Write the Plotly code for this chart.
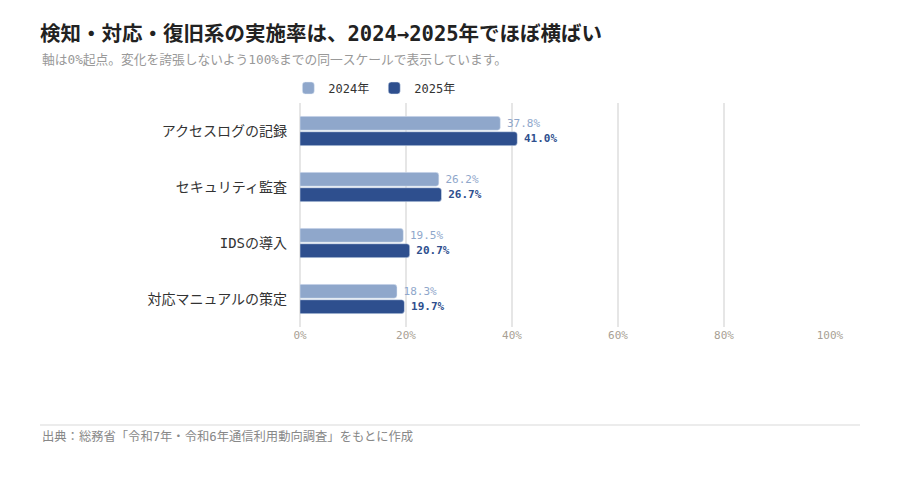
import plotly.graph_objects as go

categories = ["アクセスログの記録", "セキュリティ監査", "IDSの導入", "対応マニュアルの策定"]
rate_2024 = [37.8, 26.2, 19.5, 18.3]
rate_2025 = [41.0, 26.7, 20.7, 19.7]
tick_vals = [0, 20, 40, 60, 80, 100]
tick_text = ["0%", "20%", "40%", "60%", "80%", "100%"]

FONT = "DejaVu Sans Mono, Noto Sans CJK JP, sans-serif"
# page body has an 8px offset, so pixel targets are shifted by it
OFF = 8
W, H = 900, 480
ML, MR, MT, MB = 300 - OFF, 70 + OFF, 103 - OFF, 153 + OFF
pw, ph = W - ML - MR, H - MT - MB

def px_x(x):
    return (x - OFF - ML) / pw

def px_y(y):
    return (H - MB - (y - OFF)) / ph

# small leading spacer so value labels sit a bit off the bar end
PAD = "<span style='font-size:6px'> </span>"

fig = go.Figure()
fig.add_trace(go.Bar(
    y=categories, x=rate_2024, name="2024年", orientation="h",
    marker=dict(color="#8fa7cb"),
    text=[PAD + f"{v:.1f}%" for v in rate_2024], textposition="outside",
    textfont=dict(color="#8fa7cb", size=11, family=FONT),
    cliponaxis=False,
))
fig.add_trace(go.Bar(
    y=categories, x=rate_2025, name="2025年", orientation="h",
    marker=dict(color="#2e4f8e"),
    text=[PAD + f"{v:.1f}%" for v in rate_2025], textposition="outside",
    textfont=dict(color="#2e4f8e", size=11, family=FONT, weight="bold"),
    cliponaxis=False,
))

fig.update_layout(
    width=W, height=H,
    margin=dict(l=ML, r=MR, t=MT, b=MB),
    paper_bgcolor="white", plot_bgcolor="white",
    font=dict(family=FONT, color="#333333", size=12),
    barmode="group", bargap=0.45, bargroupgap=0.1,
    barcornerradius=3,
    title=dict(
        text="<b>検知・対応・復旧系の実施率は、2024→2025年でほぼ横ばい</b>",
        font=dict(size=20.5, color="#222222", family=FONT),
        xref="container", yref="container",
        x=(40 - OFF) / W, xanchor="left", y=1 - (34 - OFF) / H, yanchor="middle",
    ),
    legend=dict(
        orientation="h", x=-0.022, xanchor="left", y=px_y(88), yanchor="middle",
        font=dict(size=12, color="#333333"), itemwidth=30,
        traceorder="normal",
    ),
    xaxis=dict(
        range=[0, 100], tickvals=tick_vals, ticktext=tick_text,
        showgrid=True, gridcolor="#e6e6e6", gridwidth=1.5,
        zeroline=True, zerolinecolor="#e6e6e6", zerolinewidth=1.5,
        tickfont=dict(size=11, color="#a89f94"),
        fixedrange=True,
    ),
    yaxis=dict(
        autorange="reversed", tickfont=dict(size=14, color="#333333"),
        ticklabelstandoff=12, fixedrange=True,
    ),
    annotations=[
        dict(
            text="軸は0%起点。変化を誇張しないよう100%までの同一スケールで表示しています。",
            xref="paper", yref="paper", x=px_x(40), y=px_y(60),
            xanchor="left", yanchor="middle", showarrow=False,
            font=dict(size=12.75, color="#999999"),
        ),
        dict(
            text="出典：総務省「令和7年・令和6年通信利用動向調査」をもとに作成",
            xref="paper", yref="paper", x=px_x(40), y=px_y(436),
            xanchor="left", yanchor="middle", showarrow=False,
            font=dict(size=12.3, color="#888888"),
        ),
    ],
    shapes=[
        dict(
            type="line", xref="paper", yref="paper",
            x0=px_x(40), x1=px_x(860), y0=px_y(425), y1=px_y(425),
            line=dict(color="#e6e6e6", width=1.5),
        ),
    ],
)

fig.write_html("out.html")
